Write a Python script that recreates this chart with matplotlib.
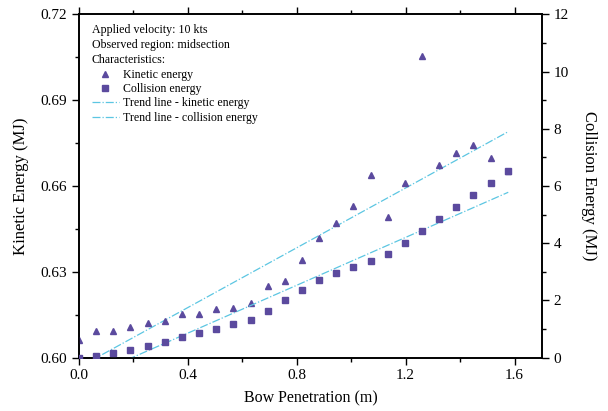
import matplotlib
matplotlib.use("Agg")
import matplotlib.pyplot as plt
from matplotlib.lines import Line2D
from matplotlib.ticker import MultipleLocator, FormatStrFormatter

plt.rcParams['font.family'] = ['Liberation Serif', 'DejaVu Serif']

# bow penetration (m)
penetration = [0.000, 0.063, 0.126, 0.189, 0.252, 0.315, 0.378, 0.441, 0.504,
               0.567, 0.630, 0.693, 0.756, 0.819, 0.882, 0.945, 1.008, 1.071,
               1.134, 1.197, 1.260, 1.323, 1.386, 1.449, 1.512, 1.575]
# kinetic energy (MJ), left axis
kinetic = [0.6062, 0.6093, 0.6093, 0.6107, 0.6120, 0.6128, 0.6154, 0.6154, 0.6169,
           0.6174, 0.6191, 0.6250, 0.6266, 0.6341, 0.6417, 0.6471, 0.6529, 0.6640,
           0.6493, 0.6610, 0.7055, 0.6675, 0.6716, 0.6743, 0.6699, 0.6654]
# collision energy (MJ), right axis
collision = [0.00, 0.07, 0.16, 0.28, 0.40, 0.56, 0.72, 0.86, 1.00, 1.17, 1.33, 1.62,
             2.02, 2.36, 2.72, 2.97, 3.16, 3.38, 3.63, 4.00, 4.44, 4.83, 5.26, 5.68,
             6.10, 6.54]
# trend lines (end points)
trend_x = [0.0, 1.577]
trend_kinetic = [0.5966, 0.6790]
trend_collision = [-0.818, 5.78]

purple = '#5b4a9e'
cyan = '#5cc6e2'

fig = plt.figure(figsize=(6.08, 4.11), dpi=100)
ax = fig.add_axes([0.130, 0.130, 0.761, 0.835])
ax2 = ax.twinx()

ax.plot(penetration, kinetic, linestyle='none', marker='^', markersize=5,
        color=purple, zorder=3)
ax.plot(trend_x, trend_kinetic, linestyle='-.', color=cyan, linewidth=0.9)
ax2.plot(penetration, collision, linestyle='none', marker='s', markersize=4,
         color=purple, zorder=3)
ax2.plot(trend_x, trend_collision, linestyle='-.', color=cyan, linewidth=0.9)

ax.set_xlim(0, 1.7)
ax.set_ylim(0.60, 0.72)
ax2.set_ylim(0, 12)

ax.xaxis.set_major_locator(MultipleLocator(0.4))
ax.xaxis.set_minor_locator(MultipleLocator(0.2))
ax.yaxis.set_major_locator(MultipleLocator(0.03))
ax.yaxis.set_minor_locator(MultipleLocator(0.015))
ax2.yaxis.set_major_locator(MultipleLocator(2))
ax2.yaxis.set_minor_locator(MultipleLocator(1))
ax.xaxis.set_major_formatter(FormatStrFormatter('%.1f'))
ax.yaxis.set_major_formatter(FormatStrFormatter('%.2f'))

for a in (ax, ax2):
    for s in a.spines.values():
        s.set_linewidth(1.2)
    a.tick_params(which='both', direction='out', width=1.0, labelsize=11)
    a.tick_params(which='major', length=5)
    a.tick_params(which='minor', length=3)
ax.tick_params(which='both', top=True)

ax.set_xlabel('Bow Penetration (m)', fontsize=11.5, labelpad=6)
ax.set_ylabel('Kinetic Energy (MJ)', fontsize=12, labelpad=8)
ax2.set_ylabel('Collision Energy (MJ)', fontsize=12, rotation=-90, labelpad=20)

handles = [
    Line2D([], [], linestyle='none', marker='^', markersize=5, color=purple),
    Line2D([], [], linestyle='none', marker='s', markersize=4, color=purple),
    Line2D([], [], linestyle='-.', color=cyan, linewidth=0.9),
    Line2D([], [], linestyle='-.', color=cyan, linewidth=0.9),
]
labels = ['Kinetic energy', 'Collision energy',
          'Trend line - kinetic energy', 'Trend line - collision energy']
leg = ax2.legend(handles, labels, loc='upper left', bbox_to_anchor=(0.027, 0.972),
                 frameon=False, fontsize=8.6, title_fontsize=8.6,
                 title='Applied velocity: 10 kts\nObserved region: midsection\nCharacteristics:',
                 alignment='left', borderpad=0, borderaxespad=0,
                 handlelength=2.3, handletextpad=0.3, labelspacing=0.2)
leg.get_title().set_linespacing(1.35)

fig.savefig('out.png', dpi=100)
